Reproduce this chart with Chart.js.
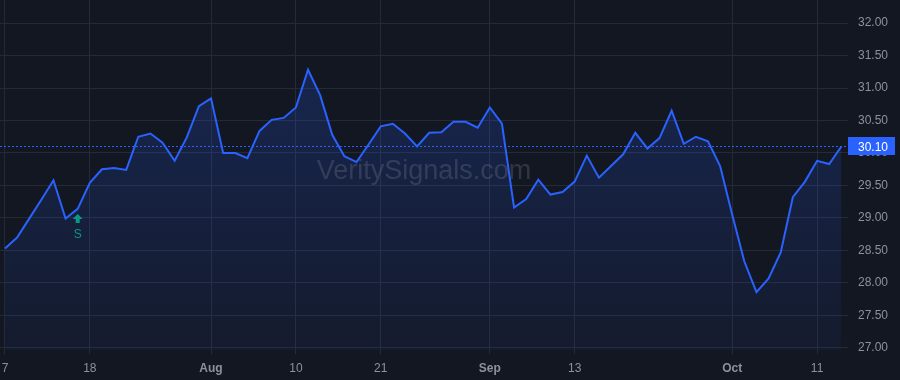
<!DOCTYPE html>
<html>
<head>
<meta charset="utf-8">
<script src="https://cdn.jsdelivr.net/npm/chart.js@4"></script>
<style>
  html, body { margin: 0; padding: 0; background: #131722; }
  #wrap { width: 900px; height: 380px; }
</style>
</head>
<body>
<div id="wrap"><canvas id="priceChart" width="900" height="380"></canvas></div>
<script>
// price series, one value per session
const prices = [
    28.53, 28.70, 28.99, 29.28, 29.58, 28.99, 29.14, 29.54, 29.75, 29.77,
    29.74, 30.25, 30.30, 30.16, 29.88, 30.24, 30.72, 30.84, 30.00, 30.00,
    29.92, 30.34, 30.51, 30.54, 30.70, 31.28, 30.89, 30.28, 29.95, 29.86,
    30.13, 30.41, 30.45, 30.30, 30.10, 30.31, 30.32, 30.48, 30.48, 30.39,
    30.70, 30.45, 29.16, 29.29, 29.59, 29.36, 29.40, 29.56, 29.96, 29.62,
    29.80, 29.98, 30.31, 30.07, 30.23, 30.65, 30.14, 30.25, 30.18, 29.80,
    29.05, 28.33, 27.86, 28.07, 28.47, 29.32, 29.56, 29.88, 29.83, 30.10
];
const sessions = prices.map((_, i) => i);

// time axis ticks (session index -> label)
const tickIndex = [0, 7, 17, 24, 31, 40, 47, 60, 67];
const tickText = ['7', '18', 'Aug', '10', '21', 'Sep', '13', 'Oct', '11'];
const monthTicks = ['Aug', 'Sep', 'Oct'];

// price axis ticks
const yTicks = [27.0, 27.5, 28.0, 28.5, 29.0, 29.5, 30.0, 30.5, 31.0, 31.5, 32.0];

// buy signal marker
const signalIndex = 6;
const signalText = 'S';
const lastPrice = prices[prices.length - 1];

const colors = {
    bg: '#131722',
    line: '#2962ff',
    grid: '#252a37',
    text: '#8e919a',
    signal: '#089981',
    watermark: 'rgba(120, 126, 145, 0.3)'
};

const font = '"Liberation Sans", Arial, sans-serif';

const overlay = {
    id: 'overlay',
    beforeDraw(chart) {
        const { ctx } = chart;
        ctx.save();
        ctx.fillStyle = colors.bg;
        ctx.fillRect(0, 0, chart.width, chart.height);
        ctx.restore();
    },
    afterDatasetsDraw(chart) {
        const { ctx, chartArea: a, scales: { x, y } } = chart;
        ctx.save();
        // watermark
        ctx.fillStyle = colors.watermark;
        ctx.font = '27px ' + font;
        ctx.textAlign = 'center';
        ctx.textBaseline = 'middle';
        ctx.fillText('VeritySignals.com', (a.left + a.right) / 2, (a.top + a.bottom) / 2 - 3);

        // last price line
        const py = Math.round(y.getPixelForValue(lastPrice)) + 0.5;
        ctx.strokeStyle = colors.line;
        ctx.lineWidth = 1;
        ctx.setLineDash([2, 2]);
        ctx.beginPath();
        ctx.moveTo(a.left, py);
        ctx.lineTo(a.right, py);
        ctx.stroke();
        ctx.setLineDash([]);

        // signal marker
        const sx = x.getPixelForValue(signalIndex);
        const sy = y.getPixelForValue(prices[signalIndex]) + 5;
        ctx.fillStyle = colors.signal;
        ctx.beginPath();
        ctx.moveTo(sx, sy);
        ctx.lineTo(sx + 5, sy + 5);
        ctx.lineTo(sx + 2, sy + 5);
        ctx.lineTo(sx + 2, sy + 9);
        ctx.lineTo(sx - 2, sy + 9);
        ctx.lineTo(sx - 2, sy + 5);
        ctx.lineTo(sx - 5, sy + 5);
        ctx.closePath();
        ctx.fill();
        ctx.font = '12px ' + font;
        ctx.textAlign = 'center';
        ctx.textBaseline = 'middle';
        ctx.fillText(signalText, sx, sy + 21);
        ctx.restore();
    },
    afterDraw(chart) {
        const { ctx, chartArea: a, scales: { y } } = chart;
        const py = y.getPixelForValue(lastPrice);
        ctx.save();
        ctx.fillStyle = colors.line;
        ctx.fillRect(a.right, Math.round(py) - 9, 47, 18);
        ctx.fillStyle = '#ffffff';
        ctx.font = '12px ' + font;
        ctx.textAlign = 'left';
        ctx.textBaseline = 'middle';
        ctx.fillText(lastPrice.toFixed(2), a.right + 10, py + 1);
        ctx.restore();
    }
};

const ctx = document.getElementById('priceChart').getContext('2d');
new Chart(ctx, {
    type: 'line',
    data: {
        datasets: [{
            data: sessions.map((s, i) => ({ x: s, y: prices[i] })),
            borderColor: colors.line,
            borderWidth: 2,
            pointRadius: 0,
            tension: 0,
            fill: 'start',
            backgroundColor: (context) => {
                const area = context.chart.chartArea;
                if (!area) return 'rgba(41, 98, 255, 0.15)';
                const g = context.chart.ctx.createLinearGradient(0, area.top, 0, area.bottom);
                g.addColorStop(0, 'rgba(41, 98, 255, 0.24)');
                g.addColorStop(1, 'rgba(41, 98, 255, 0.05)');
                return g;
            }
        }]
    },
    options: {
        responsive: false,
        animation: false,
        layout: { padding: 0 },
        plugins: { legend: { display: false }, tooltip: { enabled: false } },
        scales: {
            x: {
                type: 'linear',
                min: -0.41,
                max: 69.55,
                afterBuildTicks: (scale) => {
                    scale.ticks = tickIndex.map(v => ({ value: v }));
                },
                afterFit: (scale) => {
                    scale.height = 30;
                    scale.paddingLeft = 0;
                    scale.paddingRight = 0;
                },
                border: { display: false },
                grid: { color: colors.grid, tickLength: 4, tickColor: colors.grid },
                ticks: {
                    color: colors.text,
                    maxRotation: 0,
                    autoSkip: false,
                    padding: 7,
                    font: (c) => ({
                        family: font,
                        size: 12,
                        weight: c.tick && monthTicks.includes(tickText[tickIndex.indexOf(c.tick.value)]) ? 'bold' : 'normal'
                    }),
                    callback: (v) => tickText[tickIndex.indexOf(v)]
                }
            },
            y: {
                position: 'right',
                min: 26.969,
                max: 32.354,
                afterBuildTicks: (scale) => {
                    scale.ticks = yTicks.map(v => ({ value: v }));
                },
                afterFit: (scale) => {
                    scale.width = 52;
                    scale.paddingTop = 0;
                    scale.paddingBottom = 0;
                },
                border: { display: false },
                grid: { color: colors.grid, drawTicks: false },
                ticks: {
                    color: colors.text,
                    padding: 10,
                    crossAlign: 'near',
                    font: { family: font, size: 12 },
                    callback: (v) => v.toFixed(2)
                }
            }
        }
    },
    plugins: [overlay]
});
</script>
</body>
</html>
